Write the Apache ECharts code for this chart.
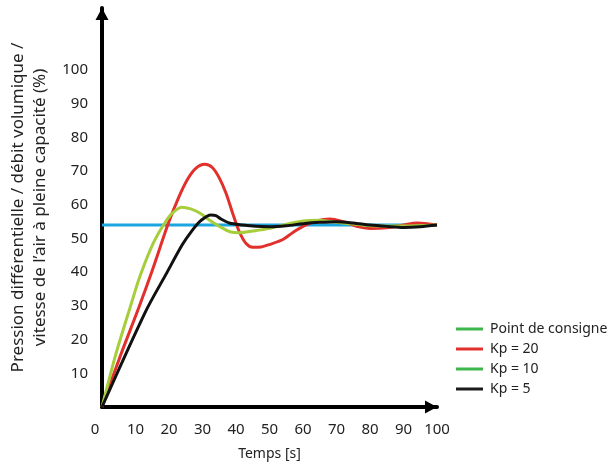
<!DOCTYPE html>
<html>
<head>
<meta charset="utf-8">
<script src="https://cdn.jsdelivr.net/npm/echarts@6/dist/echarts.min.js"></script>
<style>
  html, body { margin: 0; padding: 0; background: #fff; }
  #chart { width: 611px; height: 463px; }
</style>
</head>
<body>
<div id="chart"></div>
<script>
// valeurs : [temps (s), %]
let setpoint = [[0, 54], [100, 54]];

let kp20 = [
    [0, 0], [5.6, 15.5], [10.8, 29], [15, 40.5], [19.8, 54.5], [22.8, 62], [25.5, 67.5],
    [28, 70.8], [30.7, 72], [33, 71], [35, 68], [37, 63.5], [39, 57.5], [41, 52],
    [43, 48.5], [45, 47.4], [47.5, 47.5], [50, 48.2], [54, 49.7], [57, 51.8], [60, 53.6],
    [64, 55.2], [68, 55.8], [72, 55], [76, 53.6], [80, 53], [85, 53.2], [90, 54],
    [94, 54.6], [97, 54.4], [100, 54]
];

let kp10 = [
    [0, 0], [4.2, 15.9], [9, 31.5], [11.3, 38.7], [15.3, 48.6], [19.3, 55.5], [21.5, 58],
    [23.8, 59.3], [26.5, 58.8], [29.3, 57.5], [32, 55.5], [35.2, 53.5], [38.2, 52],
    [41, 51.7], [45, 52.2], [50, 53], [55, 54.2], [60, 55.2], [64, 55.4], [70, 54.8],
    [75, 54.3], [80, 53.8], [90, 53.7], [100, 54]
];

let kp5 = [
    [0, 0], [13, 28.3], [19, 39.2], [24, 48.2], [27, 52.5], [29.5, 55.3],
    [32.5, 57], [34, 56.8], [35.5, 55.8], [38, 54.6], [42, 54], [46, 53.6], [50, 53.5],
    [55, 53.8], [60, 54.4], [65, 54.8], [70, 55], [75, 54.6], [80, 54], [85, 53.6],
    [90, 53.3], [95, 53.5], [100, 54]
];

let seriesNames = ['Point de consigne', 'Kp = 20', 'Kp = 10', 'Kp = 5'];

let font = '"Noto Sans", sans-serif';

let lineSerie = function (name, data, color, smooth) {
    return {
        name: name,
        type: 'line',
        data: data,
        smooth: smooth,
        showSymbol: false,
        symbol: 'none',
        lineStyle: { color: color, width: 3 },
        itemStyle: { color: color }
    };
};

let option = {
    animation: false,
    textStyle: { fontFamily: font },
    grid: { left: 102, top: 8, width: 335, height: 399, outerBoundsMode: 'none', containLabel: false },
    legend: {
        orient: 'vertical',
        left: 456,
        top: 322,
        padding: 0,
        icon: 'rect',
        itemWidth: 27,
        itemHeight: 3,
        itemGap: 6,
        textStyle: { fontFamily: font, fontSize: 14, color: '#222', padding: [0, 0, 0, 2] },
        data: [
            { name: seriesNames[0], itemStyle: { color: '#3db54a' } },
            { name: seriesNames[1], itemStyle: { color: '#e2302c' } },
            { name: seriesNames[2], itemStyle: { color: '#3db54a' } },
            { name: seriesNames[3], itemStyle: { color: '#1a1a1a' } }
        ]
    },
    xAxis: {
        type: 'value',
        min: 0,
        max: 100,
        interval: 10,
        name: 'Temps [s]',
        nameLocation: 'middle',
        nameGap: 40,
        nameTextStyle: { fontFamily: font, fontSize: 14, color: '#222' },
        axisLine: {
            lineStyle: { color: '#000', width: 4 },
            symbol: ['none', 'triangle'],
            symbolSize: [13, 12],
            symbolOffset: [0, -6]
        },
        axisTick: { show: false },
        splitLine: { show: false },
        axisLabel: {
            fontFamily: font, fontSize: 15, color: '#222', margin: 15,
            formatter: function (v) {
                return v === 0 ? '{z|0}' : String(v);
            },
            rich: { z: { fontFamily: font, fontSize: 15, color: '#222', padding: [0, 14, 0, 0] } }
        }
    },
    yAxis: {
        type: 'value',
        min: 0,
        max: 118.4,
        interval: 10,
        name: 'Pression différentielle / débit volumique /\nvitesse de l’air à pleine capacité (%)',
        nameLocation: 'middle',
        nameGap: 43,
        nameTextStyle: { fontFamily: font, fontSize: 17, color: '#222', lineHeight: 22 },
        axisLine: {
            lineStyle: { color: '#000', width: 4 },
            symbol: ['none', 'triangle'],
            symbolSize: [13, 12],
            symbolOffset: [0, -6]
        },
        axisTick: { show: false },
        splitLine: { show: false },
        axisLabel: {
            fontFamily: font, fontSize: 15, color: '#222', margin: 14,
            formatter: function (v) {
                return (v > 0 && v <= 100) ? String(v) : '';
            }
        }
    },
    series: [
        lineSerie(seriesNames[0], setpoint, '#1ba6e0', false),
        lineSerie(seriesNames[1], kp20, '#e2302c', 0.3),
        lineSerie(seriesNames[2], kp10, '#a6cd3a', 0.3),
        lineSerie(seriesNames[3], kp5, '#111111', 0.3)
    ]
};

let chart = echarts.init(document.getElementById('chart'));
chart.setOption(option);
</script>
</body>
</html>
